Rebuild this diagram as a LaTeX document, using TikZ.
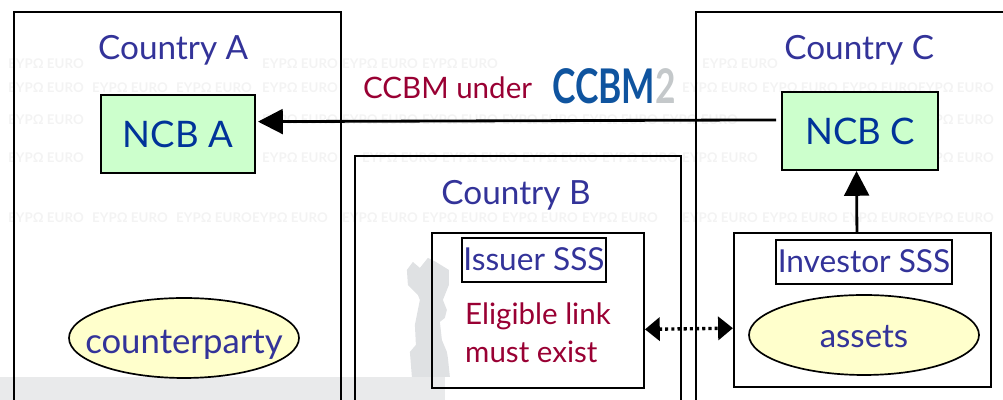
\documentclass[tikz,border=0pt]{standalone}
\usepackage{fontspec}
\setmainfont{Lato}
\usetikzlibrary{arrows.meta,shapes.geometric}
\definecolor{titleblue}{HTML}{333399}
\definecolor{ncbblue}{HTML}{003399}
\definecolor{notered}{HTML}{990033}
\definecolor{ncbgreen}{HTML}{CCFFCC}
\definecolor{ovalyellow}{HTML}{FFFFCC}
\definecolor{logoblue}{HTML}{0F549F}
\definecolor{logogray}{HTML}{C4C8CA}
\definecolor{markgray}{HTML}{F3F3F3}
\definecolor{statuegray}{HTML}{DFE1E3}
\begin{document}
\begin{tikzpicture}[country/.style={shape=rectangle,draw=black,line width=1.4pt},
titletext/.style={text=titleblue,font=\fontsize{23.7}{26}\selectfont,yshift=-0.05cm},
ncb/.style={shape=rectangle,draw=black,line width=1.4pt,fill=ncbgreen,text=ncbblue,font=\fontsize{26}{28}\selectfont,minimum width=3.85cm,minimum height=1.95cm},
sss/.style={shape=rectangle,draw=black,line width=1.4pt,fill=white,text=titleblue,font=\fontsize{22.5}{26}\selectfont,inner sep=0pt,text height=0.53cm,minimum height=1.1cm},
oval/.style={shape=ellipse,draw=black,line width=1.2pt,fill=ovalyellow,text=titleblue,font=\fontsize{23.5}{26}\selectfont,inner xsep=-0.6cm,inner ysep=0pt,text height=0.65cm,text depth=0pt,minimum width=5.75cm,minimum height=2cm},
note/.style={text=notered,font=\fontsize{21}{27}\selectfont},
influence/.style={line width=2pt,-{Triangle[length=0.62cm,width=0.62cm]}},
elink/.style={line width=2.4pt,dash pattern=on 2.2pt off 2.2pt,{Triangle[length=0.37cm,width=0.58cm]}-{Triangle[length=0.37cm,width=0.58cm]}}]
\useasboundingbox (0,0) rectangle (25.075,10);
\clip (0,0) rectangle (25.075,10);
% watermark
\foreach \xpos/\ypos in {1.15/8.4,7.5/8.4,9.5/8.4,11.5/8.4,18.5/8.4,
  1.15/7.8,3.25/7.8,5.35/7.8,7.5/7.8,18/7.8,20/7.8,22/7.8,23.9/7.8,
  1.15/7,7.5/7,9.5/7,11.5/7,13.5/7,15.5/7,17.5/7,23.9/7,
  1.15/6.05,7.5/6.05,10/6.05,12/6.05,14/6.05,16/6.05,18/6.05,23.9/6.05,
  1.15/4.55,3.25/4.55,5.35/4.55,7.25/4.55,9.5/4.55,11.5/4.55,13.5/4.55,15.5/4.55,18/4.55,20/4.55,22/4.55,23.9/4.55}
  \node[text=markgray,font=\bfseries\fontsize{9.5}{12}\selectfont] at (\xpos,\ypos) {EYPΩ EURO};
\begin{scope}[x=0.025cm,y=-0.025cm,yshift=10cm]
\fill[statuegray!70] (0,377) rectangle (445,400);
\fill[statuegray] (407,270) -- (413,262) -- (420,268) -- (428,258) -- (436,262) -- (449,270) -- (449,285) -- (443,300) -- (447,310) -- (445,318) -- (440,322) -- (442,340) -- (447,352) -- (448,358) -- (450,377) -- (412,377) -- (410,352) -- (416,345) -- (415,325) -- (420,300) -- (418,295) -- (408,285) -- cycle;
\end{scope}
% countries
\node[country,minimum width=8.175cm,minimum height=10.2cm] (CA) at (4.44,4.6) {};
\node[country,minimum width=8.15cm,minimum height=6.6cm] (CB) at (12.95,2.8) {};
\node[country,minimum width=8.1cm,minimum height=10.2cm] (CC) at (21.45,4.6) {};
\node[titletext] (TA) at (4.33,8.8) {Country A};
\node[titletext] (TB) at (12.9,5.175) {Country B};
\node[titletext] (TC) at (21.48,8.8) {Country C};
\node[ncb] (NA) at (4.45,6.65) {NCB A};
\node[ncb,minimum width=3.9cm] (NC) at (21.5,6.725) {NCB C};
\node[country,minimum width=5.3cm,minimum height=3.875cm] (IL) at (13.45,2.2375) {};
\node[country,minimum width=6.425cm,minimum height=3.85cm] (IV) at (21.56,2.25) {};
\node[sss,minimum width=3.6cm] (IS) at (13.35,3.5) {Issuer SSS};
\node[sss,minimum width=4.4cm] (VS) at (21.6,3.45) {Investor SSS};
\node[oval] (AS) at (21.6,1.625) {assets};
\node[oval,font=\fontsize{24.7}{26}\selectfont,text height=0.8cm] (CP) at (4.6,1.55) {counterparty};
\node[note,align=left] (EL) at (13.45,1.675) {Eligible link\\must exist};
\node[note,font=\fontsize{21}{26}\selectfont] (CU) at (11.19,7.8) {CCBM under};
\node[xscale=0.74,transform shape,font=\bfseries\fontsize{34}{36}\selectfont,text=logoblue] (LG) at (15.35,7.85) {CCBM\textcolor{logogray}{2}};
\draw[influence,shorten <=0.125cm,shorten >=0.05cm] (NC.172.7) -- (NA.9.5);
\draw[influence] (IV.94) -- (NC.265.6);
\draw[elink] (IL.-10.7) -- (IV.188.8);
\end{tikzpicture}
\end{document}
